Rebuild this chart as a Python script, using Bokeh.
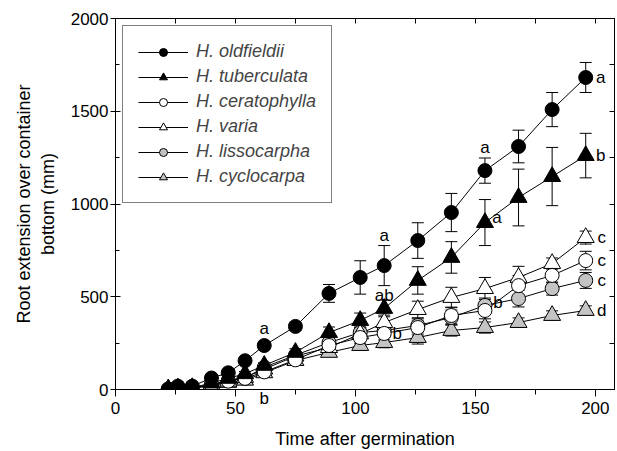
from bokeh.plotting import figure
from bokeh.models import (ColumnDataSource, Whisker, TeeHead, Legend, LegendItem,
                          LinearAxis, Label, Range1d, FixedTicker)
from bokeh.embed import file_html
from bokeh.resources import INLINE

times = [22, 26, 32, 40, 47, 54, 62, 75, 89, 102, 112, 126, 140, 154, 168, 182, 196]

oldfieldii = [3, 18, 18, 62, 90, 155, 237, 340, 518, 604, 668, 803, 954, 1180, 1310, 1509, 1682]
oldfieldii_err = [4, 6, 6, 10, 12, 15, 18, 22, 48, 90, 108, 96, 103, 68, 88, 92, 81]
tuberculata = [2, 8, 10, 35, 60, 85, 130, 200, 307, 372, 437, 588, 712, 900, 1035, 1148, 1261]
tuberculata_err = [3, 5, 5, 8, 10, 12, 15, 20, 30, 40, 45, 74, 85, 124, 153, 157, 120]
ceratophylla = [1, 5, 8, 25, 45, 60, 95, 160, 237, 280, 302, 334, 399, 426, 560, 615, 695]
ceratophylla_err = [2, 3, 4, 6, 8, 10, 15, 20, 25, 30, 35, 40, 45, 45, 55, 40, 50]
varia = [1, 5, 8, 25, 45, 65, 110, 180, 226, 300, 361, 431, 496, 544, 604, 679, 819]
varia_err = [2, 3, 4, 6, 8, 10, 15, 20, 25, 35, 40, 45, 55, 60, 60, 30, 35]
lissocarpha = [1, 6, 8, 28, 48, 62, 120, 185, 253, 307, 318, 345, 388, 453, 490, 544, 588]
lissocarpha_err = [2, 3, 4, 6, 8, 10, 15, 20, 25, 30, 35, 40, 40, 40, 45, 35, 43]
cyclocarpa = [1, 4, 6, 20, 38, 50, 90, 156, 200, 237, 253, 280, 318, 334, 361, 399, 426]
cyclocarpa_err = [2, 3, 4, 6, 8, 10, 12, 18, 20, 25, 28, 35, 30, 30, 25, 25, 25]

names = ["H. oldfieldii", "H. tuberculata", "H. ceratophylla", "H. varia",
         "H. lissocarpha", "H. cyclocarpa"]
values = [oldfieldii, tuberculata, ceratophylla, varia, lissocarpha, cyclocarpa]
errors = [oldfieldii_err, tuberculata_err, ceratophylla_err, varia_err,
          lissocarpha_err, cyclocarpa_err]
markers = ["circle", "triangle", "circle", "triangle", "circle", "triangle"]
fills = ["black", "black", "white", "white", "#c4c4c4", "#c4c4c4"]

# significance letters: text, series index, time index
letters = ["a", "b", "a", "ab", "b", "a", "a", "b", "a", "b", "c", "c", "c", "d"]
letter_series = [0, 5, 0, 1, 2, 0, 1, 2, 0, 1, 3, 2, 4, 5]
letter_index = [6, 6, 10, 10, 10, 13, 13, 13, 16, 16, 16, 16, 16, 16]
letter_dx = [0, 0, 0, 0, 13, 0, 12, 13, 15, 15, 16, 16, 16, 16]
letter_dy = [17, -26, 30, 13, 0, 23, 5, 8, 0, 0, 0, 0, 0, 0]

x_ticks = [0, 50, 100, 150, 200]
y_ticks = [0, 500, 1000, 1500, 2000]

FONT = "Liberation Sans"

p = figure(width=617, height=451, output_backend="svg", toolbar_location=None,
           x_range=Range1d(0, 208), y_range=Range1d(0, 2000),
           min_border_left=115, min_border_right=3, min_border_top=18,
           min_border_bottom=62)
p.xgrid.visible = False
p.ygrid.visible = False
p.outline_line_color = "black"
p.outline_line_width = 1

xa = p.xaxis[0]
xa.ticker = FixedTicker(ticks=x_ticks, minor_ticks=[25, 75, 125, 175])
xa.major_tick_in = 0
xa.major_tick_out = 7
xa.minor_tick_in = 0
xa.minor_tick_out = 5
xa.major_label_standoff = 5
xa.axis_label = "Time after germination"
xa.axis_label_standoff = 12

ya = p.yaxis[0]
ya.ticker = FixedTicker(ticks=y_ticks, minor_ticks=[250, 750, 1250, 1750])
ya.major_tick_in = 5
ya.major_tick_out = 5
ya.minor_tick_in = 4
ya.minor_tick_out = 0
ya.major_label_standoff = 2
ya.axis_label = "Root extension over container\nbottom (mm)"
ya.axis_label_standoff = 10

for ax in (xa, ya):
    ax.axis_line_color = "black"
    ax.major_tick_line_color = "black"
    ax.minor_tick_line_color = "black"
    ax.major_label_text_font = FONT
    ax.major_label_text_font_size = "17px"
    ax.major_label_text_color = "black"
    ax.axis_label_text_font = FONT
    ax.axis_label_text_font_size = "18px"
    ax.axis_label_text_font_style = "normal"
    ax.axis_label_text_color = "black"

# mirrored tick marks on top and right (minor ticks only: no label texts)
top = LinearAxis(ticker=FixedTicker(ticks=[], minor_ticks=list(range(0, 201, 25))),
                 major_tick_line_color=None, minor_tick_in=5, minor_tick_out=0,
                 minor_tick_line_color="black", axis_line_color="black",
                 major_label_standoff=0)
right = LinearAxis(ticker=FixedTicker(ticks=[], minor_ticks=list(range(0, 2001, 250))),
                   major_tick_line_color=None, minor_tick_in=5, minor_tick_out=0,
                   minor_tick_line_color="black", axis_line_color="black",
                   major_label_standoff=0)
p.add_layout(top, "above")
p.add_layout(right, "right")

line_rs, mark_rs = [], []
for name, vals, errs, mk, fc in zip(names, values, errors, markers, fills):
    src = ColumnDataSource(dict(x=times, y=vals,
                                upper=[v + e for v, e in zip(vals, errs)],
                                lower=[v - e for v, e in zip(vals, errs)]))
    w = Whisker(base="x", upper="upper", lower="lower", source=src,
                dimension="height", level="underlay", line_color="black", line_width=1,
                upper_head=TeeHead(size=12, line_color="black", line_width=1),
                lower_head=TeeHead(size=12, line_color="black", line_width=1))
    p.add_layout(w)
    lr = p.line("x", "y", source=src, line_color="black", line_width=1)
    line_rs.append(lr)
    mark_rs.append((src, mk, fc))

rend = [None] * len(names)
for i in reversed(range(len(names))):
    src, mk, fc = mark_rs[i]
    size = 14 if mk == "circle" else 17
    rend[i] = p.scatter("x", "y", source=src, marker=mk, size=size,
                        fill_color=fc, line_color="black", line_width=1)

items = [LegendItem(label=n, renderers=[line_rs[i], rend[i]]) for i, n in enumerate(names)]
legend = Legend(items=items, location="top_left", margin=7, padding=15,
                glyph_width=50, glyph_height=20, label_height=20, spacing=4,
                label_standoff=8, label_text_font=FONT, label_text_font_size="18px",
                label_text_font_style="italic", border_line_color="black",
                border_line_width=1, background_fill_alpha=1.0)
p.add_layout(legend, "center")

for t, s, i, dx, dy in zip(letters, letter_series, letter_index, letter_dx, letter_dy):
    lab = Label(x=times[i], y=values[s][i], text=t, x_offset=dx, y_offset=dy,
                text_align="center", text_baseline="middle", level="overlay",
                text_font=FONT, text_font_size="17px", text_color="black")
    if dy < -20:
        # below the time axis: a side-panel annotation is not clipped to the frame
        p.add_layout(lab, "left")
    else:
        p.add_layout(lab)

open("out.html", "w").write(file_html(p, INLINE))
